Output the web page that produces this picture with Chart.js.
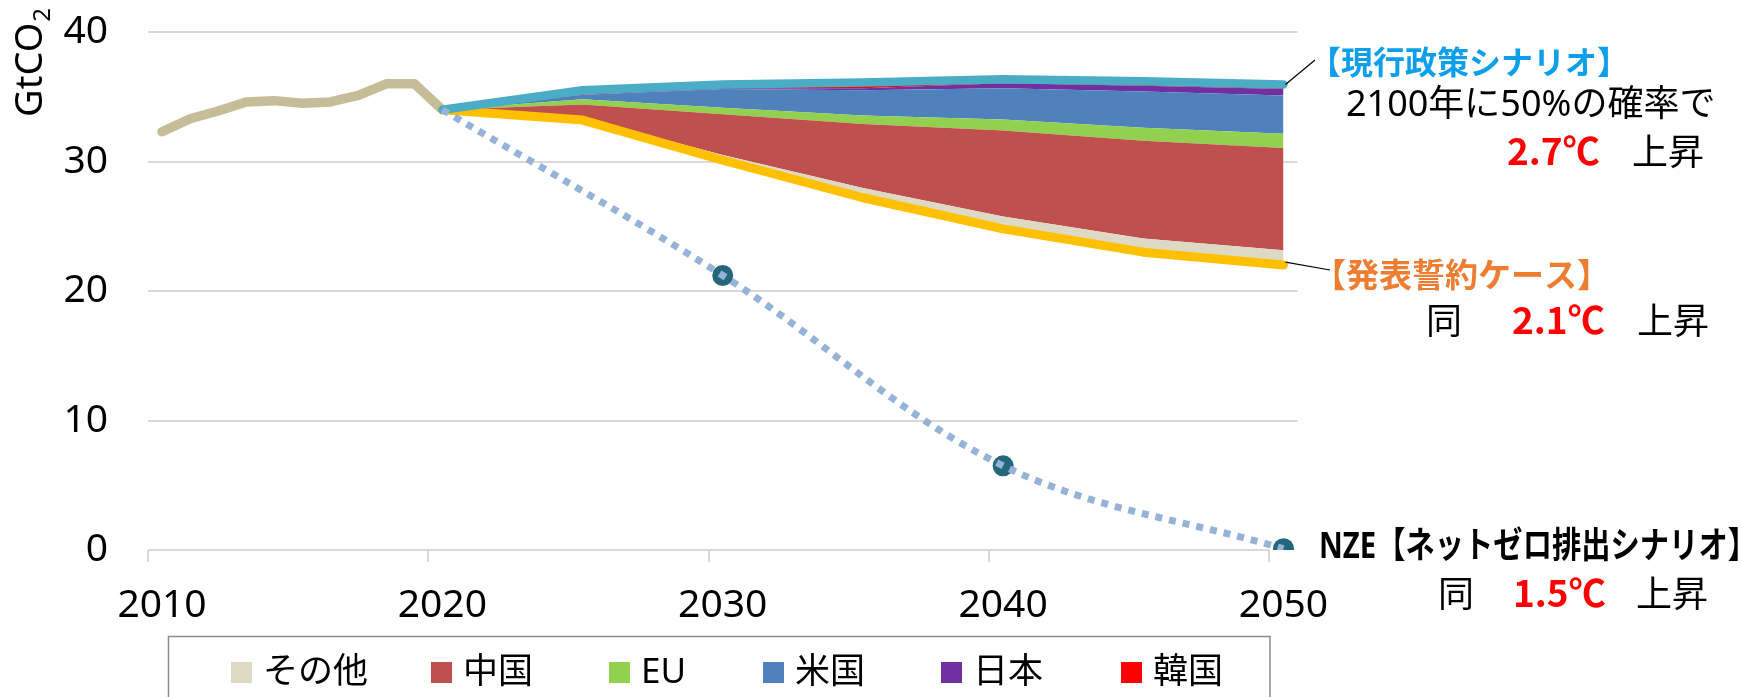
<!DOCTYPE html>
<html>
<head>
<meta charset="utf-8">
<script src="https://cdn.jsdelivr.net/npm/chart.js@4"></script>
<style>
  body { margin: 0; background: #fff; }
  #wrap { width: 1760px; height: 697px; }
</style>
</head>
<body>
<div id="wrap"><canvas id="co2"></canvas></div>
<script>
// historical emissions (GtCO2)
const histYears = [2010, 2011, 2012, 2013, 2014, 2015, 2016, 2017, 2018, 2019, 2020];
const histCO2 = [32.3, 33.3, 33.9, 34.6, 34.7, 34.5, 34.6, 35.1, 36.0, 36.0, 34.0];

// scenarios, every 5 years
const scenYears = [2020, 2025, 2030, 2035, 2040, 2045, 2050];
const steps = [34.0, 35.5, 35.95, 36.1, 36.35, 36.2, 35.95];   // 現行政策シナリオ
const aps = [34.0, 33.2, 30.1, 27.2, 24.8, 23.0, 22.0];         // 発表誓約ケース

// gap between the two scenarios, by region
const regions = ['その他', '中国', 'EU', '米国', '日本', '韓国'];
const gapOther = [0, 0.15, 0.4, 0.75, 0.95, 1.05, 1.15];
const gapChina = [0, 1.05, 3.15, 4.95, 6.65, 7.55, 7.9];
const gapEU = [0, 0.4, 0.5, 0.65, 0.85, 1.0, 1.1];
const gapUS = [0, 0.35, 1.45, 1.95, 2.4, 2.8, 2.95];
const gapJapan = [0, 0, 0.05, 0.15, 0.4, 0.45, 0.5];
const gapKorea = [0, 0.3, 0.3, 0.35, 0.3, 0.3, 0.3];

// net zero pathway
const nzeYears = [2020, 2030, 2040, 2050];
const nze = [34.0, 21.2, 6.5, 0.1];

const xTickYears = [2010, 2020, 2030, 2040, 2050];

const regionColors = ['#ddd9c4', '#c0504d', '#92d050', '#4f81bd', '#7030a0', '#ff0000'];
const gapSeries = [gapOther, gapChina, gapEU, gapUS, gapJapan, gapKorea];

const LATIN = '"Noto Sans", "Noto Sans CJK JP", sans-serif';
const JP = '"Noto Sans CJK JP", sans-serif';
const GRID = '#d9d9d9';

const pts = (xs, ys) => xs.map((v, i) => ({x: v, y: ys[i]}));

// x axis line only spans the tick range
const axisLine = {
  id: 'axisLine',
  beforeDatasetsDraw(chart) {
    const {ctx, scales: {x, y}} = chart;
    const y0 = y.getPixelForValue(0);
    ctx.save();
    ctx.strokeStyle = GRID;
    ctx.lineWidth = 2;
    ctx.beginPath();
    ctx.moveTo(x.getPixelForValue(xTickYears[0] - 0.5), y0);
    ctx.lineTo(x.getPixelForValue(xTickYears[xTickYears.length - 1] - 0.5), y0);
    ctx.stroke();
    ctx.restore();
  }
};

// GtCO2 with a real subscript
const yTitle = {
  id: 'yTitle',
  afterDraw(chart) {
    const ctx = chart.ctx;
    ctx.save();
    ctx.translate(42, 117);
    ctx.rotate(-Math.PI / 2);
    ctx.fillStyle = '#000';
    ctx.textBaseline = 'alphabetic';
    ctx.font = '38px ' + LATIN;
    ctx.fillText('GtCO', 0, 0);
    const w = ctx.measureText('GtCO').width;
    ctx.font = '24px ' + LATIN;
    ctx.fillText('2', w + 1, 8);
    ctx.restore();
  }
};

// boxed legend under the axis
const legendSlots = [231, 431, 609, 763, 941, 1121];
const regionLegend = {
  id: 'regionLegend',
  afterDraw(chart) {
    const ctx = chart.ctx;
    ctx.save();
    ctx.strokeStyle = '#8c8c8c';
    ctx.lineWidth = 1.5;
    ctx.strokeRect(168.5, 636.5, 1101.5, 80);
    ctx.font = '35px ' + LATIN;
    ctx.textBaseline = 'middle';
    regions.forEach((name, i) => {
      const cx = legendSlots[i];
      ctx.fillStyle = regionColors[i];
      ctx.fillRect(cx, 662, 21, 21);
      ctx.fillStyle = '#000';
      ctx.fillText(name, cx + 32, 673);
    });
    ctx.restore();
  }
};

// scenario notes on the right
const notes = {
  id: 'notes',
  afterDraw(chart) {
    const {ctx, scales: {x, y}} = chart;
    const xEnd = x.getPixelForValue(2050);
    ctx.save();
    ctx.strokeStyle = '#000';
    ctx.lineWidth = 1.2;
    ctx.beginPath();
    ctx.moveTo(xEnd + 2, y.getPixelForValue(steps[steps.length - 1]));
    ctx.lineTo(1315, 60);
    ctx.moveTo(xEnd + 2, y.getPixelForValue(aps[aps.length - 1]) - 3);
    ctx.lineTo(1330, 270);
    ctx.stroke();

    const texts = [
      ['【現行政策シナリオ】', 1309, 62, 'bold 32px ' + JP, '#0d9fec'],
      ['2100年に50%の確率で', 1346, 106, '36px ' + LATIN, '#000'],
      ['2.7℃', 1507, 151, 'bold 37px ' + JP, '#ff0000'],
      ['上昇', 1632, 151, '36px ' + JP, '#000'],
      ['【発表誓約ケース】', 1313, 274, 'bold 33px ' + JP, '#ed7d31'],
      ['同', 1426, 320, '36px ' + JP, '#000'],
      ['2.1℃', 1512, 320, 'bold 37px ' + JP, '#ff0000'],
      ['上昇', 1637, 320, '36px ' + JP, '#000'],
      ['NZE【ネットゼロ排出シナリオ】', 1319, 548, 'bold 36px ' + LATIN, '#000', 438],
      ['同', 1438, 593, '36px ' + JP, '#000'],
      ['1.5℃', 1513, 593, 'bold 37px ' + JP, '#ff0000'],
      ['上昇', 1636, 593, '36px ' + JP, '#000']
    ];
    ctx.textBaseline = 'middle';
    ctx.textAlign = 'left';
    texts.forEach(([t, tx, ty, font, color, maxW]) => {
      ctx.font = font;
      ctx.fillStyle = color;
      if (maxW) ctx.fillText(t, tx, ty, maxW);
      else ctx.fillText(t, tx, ty);
    });
    ctx.restore();
  }
};

const lineStyle = {pointRadius: 0, fill: false, borderCapStyle: 'round', borderJoinStyle: 'round'};

new Chart(document.getElementById('co2'), {
  type: 'line',
  data: {
    datasets: [
      {
        label: 'NZE',
        data: pts(nzeYears, nze),
        borderColor: '#95b3d7',
        borderWidth: 7,
        borderDash: [7, 7],
        pointRadius: 0,
        tension: 0.35,
        fill: false,
        stack: 'nze',
        order: -2
      },
      {
        label: 'NZE点',
        data: pts(nzeYears, nze),
        showLine: false,
        pointRadius: nze.map((v, i) => i === 0 ? 0 : 10.5),
        pointBackgroundColor: '#23677a',
        pointBorderWidth: 0,
        stack: 'nzeMarks',
        order: -1
      },
      Object.assign({
        label: '現行政策シナリオ',
        data: pts(scenYears, steps),
        borderColor: '#4bacc6',
        borderWidth: 8.5,
        stack: 'steps'
      }, lineStyle),
      Object.assign({
        label: '発表誓約ケース',
        data: pts(scenYears, aps),
        borderColor: '#ffc000',
        borderWidth: 9,
        stack: 'gap'
      }, lineStyle),
      ...regions.map((name, i) => ({
        label: name,
        data: pts(scenYears, gapSeries[i]),
        backgroundColor: regionColors[i],
        borderWidth: 0,
        pointRadius: 0,
        fill: '-1',
        stack: 'gap'
      })),
      Object.assign({
        label: '実績',
        data: pts(histYears, histCO2),
        borderColor: '#c4bd97',
        borderWidth: 9.5,
        stack: 'hist'
      }, lineStyle)
    ]
  },
  options: {
    responsive: true,
    maintainAspectRatio: false,
    animation: false,
    layout: {padding: {top: 32, right: 462.5, left: 0, bottom: 0}},
    plugins: {
      legend: {display: false},
      tooltip: {enabled: false}
    },
    scales: {
      x: {
        type: 'linear',
        min: 2009.5,
        max: 2050.5,
        afterBuildTicks: (scale) => {
          scale.ticks = xTickYears.map(v => ({value: v - 0.5}));
        },
        afterFit: (scale) => {
          scale.height = 147;
          scale.paddingLeft = 0;
          scale.paddingRight = 0;
        },
        grid: {drawOnChartArea: false, drawTicks: true, tickLength: 12, color: GRID, lineWidth: 2},
        border: {display: false},
        ticks: {
          callback: (v) => String(v + 0.5),
          labelOffset: 14,
          padding: 20,
          maxRotation: 0,
          color: '#000',
          font: {family: LATIN, size: 39}
        }
      },
      y: {
        stacked: true,
        min: 0,
        max: 40,
        afterFit: (scale) => {
          scale.width = 148;
          scale.paddingTop = 0;
          scale.paddingBottom = 0;
        },
        grid: {
          drawTicks: false,
          lineWidth: 2,
          color: (c) => c.tick && c.tick.value === 0 ? 'rgba(0,0,0,0)' : GRID
        },
        border: {display: false},
        ticks: {
          stepSize: 10,
          padding: 40,
          color: '#000',
          font: {family: LATIN, size: 39}
        }
      }
    }
  },
  plugins: [axisLine, yTitle, regionLegend, notes]
});
</script>
</body>
</html>
